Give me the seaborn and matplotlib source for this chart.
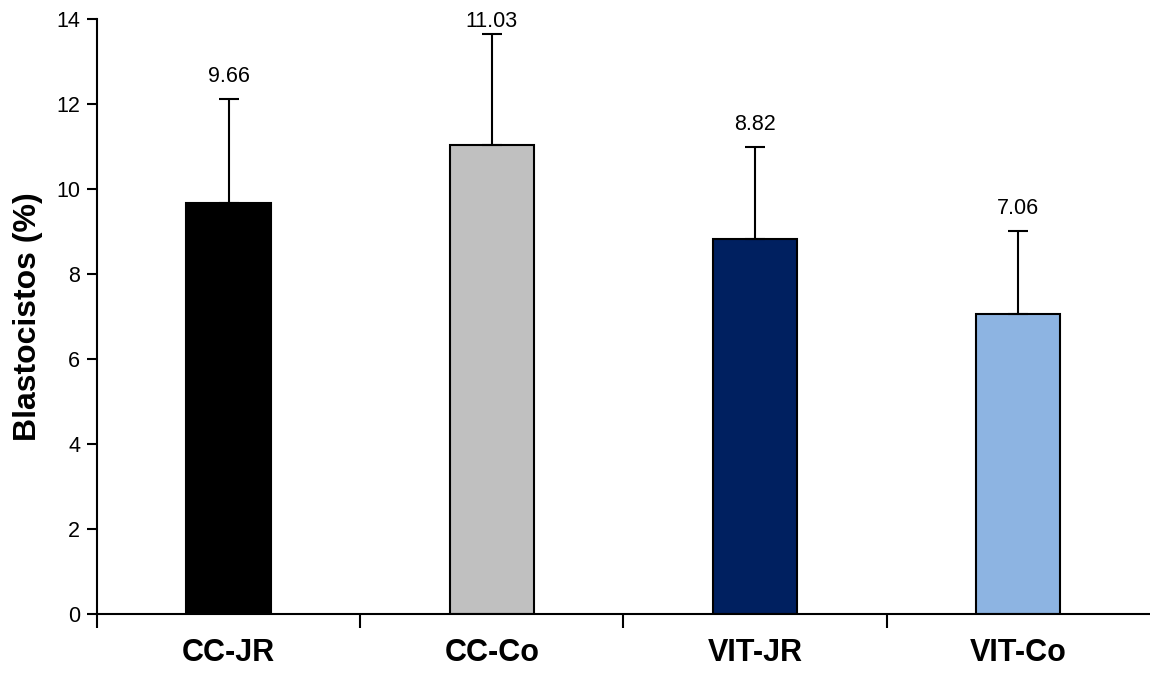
import numpy as np
import pandas as pd
import matplotlib
matplotlib.use("Agg")
import matplotlib.pyplot as plt
import seaborn as sns

groups = ["CC-JR", "CC-Co", "VIT-JR", "VIT-Co"]
values = [9.66, 11.03, 8.82, 7.06]
errors = [2.46, 2.62, 2.17, 1.96]
colors = ["#000000", "#c0c0c0", "#002060", "#8db4e2"]

df = pd.DataFrame({"grupo": groups, "valor": values})

sns.set_style("ticks")
plt.rcParams["font.family"] = ["Liberation Sans", "DejaVu Sans"]
plt.rcParams["text.color"] = "black"
plt.rcParams["axes.labelcolor"] = "black"
plt.rcParams["xtick.color"] = "black"
plt.rcParams["ytick.color"] = "black"
plt.rcParams["axes.edgecolor"] = "black"

fig = plt.figure(figsize=(11.5, 6.73), dpi=100)
ax = fig.add_axes([0.0843, 0.0877, 0.9157, 0.8841])

sns.barplot(data=df, x="grupo", y="valor", hue="grupo", palette=colors,
            saturation=1, width=0.32, edgecolor="black", linewidth=1.5,
            legend=False, ax=ax)

x = np.arange(len(groups))
ax.errorbar(x, values, yerr=[np.zeros(len(errors)), errors], fmt="none",
            ecolor="black", elinewidth=1.5, capsize=7, capthick=1.5)

for xi, v, e in zip(x, values, errors):
    ylab = min(v + e + 0.52, 13.93)
    ax.text(xi, ylab, f"{v:.2f}", ha="center", va="center", fontsize=15.5)

ax.set_xlim(-0.5, 3.5)
ax.set_ylim(0, 14)
ax.set_yticks(np.arange(0, 15, 2))
ax.set_xlabel("")
ax.set_ylabel("Blastocistos (%)", fontsize=23, fontweight="bold")
ax.yaxis.set_label_coords(-0.051, 0.5)

ax.set_xticks(x)
ax.set_xticklabels(groups, fontsize=22, fontweight="bold")
ax.set_xticks([-0.5, 0.5, 1.5, 2.5], minor=True)
ax.tick_params(axis="x", which="major", length=0, pad=17)
ax.tick_params(axis="x", which="minor", length=10, width=1.5, direction="out")
ax.tick_params(axis="y", length=7, width=1.5, direction="out", labelsize=15.5, pad=5)

sns.despine(ax=ax)
for s in ["left", "bottom"]:
    ax.spines[s].set_linewidth(1.5)

fig.savefig("out.png", dpi=100)
